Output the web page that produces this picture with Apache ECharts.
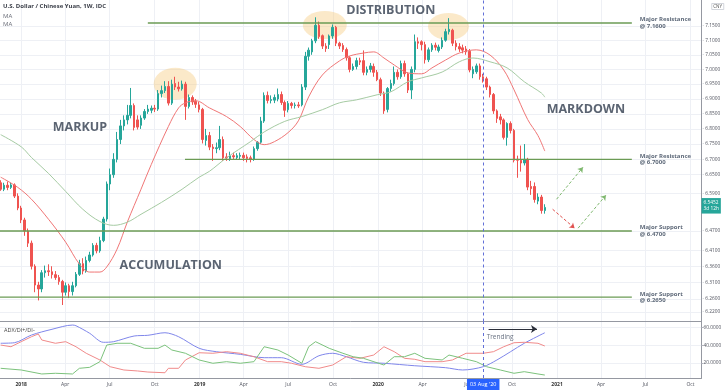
<!DOCTYPE html>
<html><head><meta charset="utf-8">
<script src="https://cdn.jsdelivr.net/npm/echarts@6/dist/echarts.min.js"></script>
<style>html,body{margin:0;padding:0;background:#fff}#c{width:728px;height:391px}</style>
</head><body><div id="c"></div>
<script>
// ---------- DATA ----------
const weekStart = -6; // first candle: 6 weeks before 2018-01-01 (weekly, Monday)
const open = [
6.624,6.603,6.616,6.609,6.617,6.581,6.543,6.505,6.470,6.432,
6.360,6.302,6.290,6.340,6.346,6.343,6.334,6.325,6.313,6.280,
6.300,6.282,6.300,6.335,6.368,6.345,6.378,6.395,6.425,6.408,
6.440,6.508,6.620,6.650,6.700,6.765,6.810,6.830,6.845,6.878,
6.830,6.812,6.836,6.858,6.862,6.869,6.866,6.918,6.928,6.942,
6.886,6.952,6.940,6.934,6.950,6.875,6.905,6.892,6.880,6.865,
6.762,6.778,6.740,6.735,6.738,6.765,6.708,6.702,6.712,6.706,
6.710,6.713,6.708,6.705,6.700,6.735,6.756,6.826,6.912,6.895,
6.896,6.900,6.915,6.888,6.864,6.885,6.878,6.880,6.880,6.940,
7.045,7.060,7.098,7.152,7.116,7.080,7.085,7.115,7.145,7.090,
7.082,7.068,7.040,7.000,7.010,7.030,7.030,6.990,7.000,7.010,
6.990,6.965,6.920,6.865,6.935,6.952,6.990,6.975,7.020,6.985,
6.930,7.000,7.095,7.095,7.085,7.033,7.067,7.083,7.065,7.077,
7.100,7.130,7.135,7.090,7.078,7.074,7.070,7.062,6.985,6.992,
7.012,6.975,6.968,6.940,6.915,6.860,6.840,6.830,6.772,6.818,
6.795,6.700,6.697,6.688,6.700,6.612,6.612,6.565,6.578,6.535];
const close = [
6.603,6.616,6.609,6.617,6.581,6.543,6.505,6.470,6.432,6.360,
6.302,6.290,6.340,6.346,6.343,6.334,6.325,6.313,6.280,6.300,
6.282,6.300,6.335,6.368,6.345,6.378,6.395,6.425,6.408,6.440,
6.508,6.620,6.650,6.700,6.765,6.810,6.830,6.845,6.878,6.805,
6.806,6.836,6.858,6.866,6.869,6.866,6.918,6.928,6.942,6.886,
6.950,6.940,6.934,6.950,6.875,6.905,6.890,6.882,6.865,6.765,
6.778,6.740,6.735,6.738,6.765,6.705,6.705,6.712,6.708,6.712,
6.713,6.705,6.703,6.700,6.735,6.756,6.826,6.912,6.895,6.898,
6.905,6.915,6.888,6.862,6.885,6.878,6.880,6.877,6.940,7.045,
7.066,7.098,7.152,7.113,7.080,7.072,7.115,7.145,7.090,7.080,
7.068,7.040,7.000,7.010,7.030,7.025,6.990,7.000,7.012,6.990,
6.965,6.920,6.860,6.935,6.952,6.990,6.975,7.020,6.985,6.930,
7.000,7.095,7.090,7.085,7.033,7.067,7.083,7.076,7.077,7.100,
7.130,7.138,7.090,7.078,7.070,7.066,7.060,6.998,7.000,7.012,
6.975,6.968,6.940,6.915,6.860,6.835,6.830,6.772,6.818,6.795,
6.697,6.697,6.688,6.700,6.610,6.605,6.570,6.578,6.535,6.545];
const low = [
6.598,6.597,6.600,6.604,6.575,6.536,6.495,6.455,6.420,6.350,
6.280,6.255,6.280,6.325,6.330,6.322,6.318,6.303,6.241,6.270,
6.262,6.270,6.295,6.330,6.335,6.340,6.372,6.390,6.400,6.402,
6.435,6.500,6.600,6.640,6.690,6.750,6.795,6.815,6.835,6.795,
6.798,6.800,6.830,6.850,6.852,6.856,6.860,6.905,6.920,6.878,
6.880,6.930,6.925,6.928,6.830,6.868,6.880,6.870,6.855,6.752,
6.745,6.730,6.695,6.720,6.730,6.695,6.695,6.695,6.700,6.698,
6.700,6.695,6.690,6.690,6.695,6.728,6.750,6.820,6.885,6.885,
6.886,6.892,6.880,6.840,6.855,6.868,6.868,6.870,6.875,6.930,
7.030,7.050,7.090,7.105,7.070,7.060,7.070,7.105,7.080,7.070,
7.060,7.030,6.990,6.995,7.000,7.015,6.980,6.980,6.990,6.975,
6.960,6.910,6.850,6.855,6.925,6.945,6.965,6.968,6.975,6.920,
6.900,6.990,7.070,7.065,7.020,7.025,7.060,7.065,7.058,7.070,
7.095,7.120,7.080,7.065,7.060,7.055,7.050,6.990,6.970,6.985,
6.965,6.955,6.930,6.905,6.850,6.820,6.815,6.765,6.745,6.785,
6.690,6.640,6.660,6.680,6.600,6.585,6.560,6.555,6.525,6.525];
const high = [
6.632,6.624,6.628,6.624,6.622,6.590,6.550,6.512,6.478,6.440,
6.366,6.312,6.348,6.362,6.366,6.360,6.345,6.333,6.318,6.310,
6.306,6.312,6.342,6.380,6.385,6.390,6.405,6.432,6.433,6.452,
6.515,6.628,6.670,6.720,6.790,6.830,6.845,6.880,6.937,6.885,
6.845,6.845,6.866,6.880,6.878,6.880,6.930,6.945,6.960,6.960,
6.965,6.975,6.958,6.962,6.958,6.915,6.912,6.900,6.890,6.870,
6.800,6.790,6.750,6.755,6.810,6.775,6.720,6.725,6.722,6.720,
6.722,6.722,6.716,6.712,6.742,6.760,6.840,6.922,6.925,6.912,
6.915,6.935,6.925,6.895,6.893,6.890,6.888,6.890,6.950,7.060,
7.075,7.105,7.180,7.165,7.120,7.090,7.120,7.155,7.150,7.095,
7.090,7.075,7.045,7.020,7.040,7.040,7.065,7.010,7.022,7.020,
6.998,6.972,6.925,6.940,6.965,7.010,7.000,7.030,7.030,6.990,
7.010,7.120,7.110,7.100,7.095,7.075,7.090,7.092,7.085,7.110,
7.140,7.177,7.140,7.100,7.090,7.085,7.080,7.070,7.010,7.020,
7.020,6.985,6.975,6.945,6.920,6.865,6.850,6.835,6.822,6.825,
6.800,6.712,6.745,6.750,6.705,6.630,6.625,6.590,6.585,6.555];

const maRedWeek = [-6,-1,3,8,13,17,20,23,25,28,31,35,38,43,46,48,51,55,60,64,68,71,74,78,81,84,88,93,96,100,103,106,109,113,117,120,124,128,133,137,141,144,148,151,153];
const maRedVal  = [6.642,6.609,6.571,6.507,6.435,6.367,6.342,6.342,6.358,6.413,6.498,6.603,6.683,6.808,6.870,6.887,6.894,6.870,6.841,6.808,6.765,6.748,6.758,6.788,6.827,6.907,6.981,7.029,7.046,7.056,7.060,7.039,7.015,6.988,6.985,7.005,7.032,7.056,7.067,7.049,6.998,6.931,6.831,6.778,6.727];
const maGreenWeek = [-6,0,3,8,13,18,23,27,31,35,41,47,52,55,60,67,71,77,82,88,93,98,104,108,113,117,123,128,132,137,142,147,152,153];
const maGreenVal  = [6.781,6.741,6.706,6.654,6.596,6.539,6.500,6.488,6.498,6.523,6.561,6.603,6.642,6.661,6.705,6.758,6.790,6.825,6.841,6.864,6.887,6.897,6.914,6.924,6.958,6.971,6.991,7.026,7.039,7.026,7.005,6.958,6.920,6.906];

const adxWeek = [-6,-2,3,9,15,16,20,24,27,33,37,42,46,52,57,64,71,76,82,87,91,95,100,106,115,124,129,135,139,143,147,153];
const adxVal  = [42.3,42.9,51.6,58.1,62.9,62.1,53.6,43.4,44.1,50.5,51.3,54.2,49.7,36.6,32.8,29.8,26.0,26.0,18.5,28.2,31.0,27.1,20.8,19.7,16.9,14.7,12.1,15.8,23.4,32.8,42.3,54.2];
const diMinusWeek = [-6,-3,0,3,5,6,10,13,16,19,23,26,30,34,37,42,43,46,48,52,56,60,64,68,72,76,79,83,87,91,95,99,103,106,109,112,115,118,123,126,130,135,138,141,144,147,151,153];
const diMinusVal  = [40.3,38.4,44.1,49.7,52.8,46.0,42.3,44.1,38.4,31.0,23.4,15.8,12.1,11.0,9.8,9.0,14.0,14.0,23.4,31.6,31.0,32.8,31.0,27.1,21.5,21.5,19.7,15.8,14.0,17.7,27.1,25.3,29.0,38.4,32.8,25.3,24.2,21.5,21.5,23.4,31.0,31.0,32.8,38.4,42.9,43.4,42.3,39.2];
const diPlusWeek = [-6,0,6,10,15,17,20,23,25,28,32,36,40,42,44,48,52,56,60,64,68,71,75,78,82,84,86,90,94,97,100,106,109,112,115,118,123,125,129,133,136,140,144,147,151,153];
const diPlusVal  = [14.0,12.1,7.6,8.4,7.6,14.0,15.1,21.5,40.3,42.3,42.3,36.6,36.6,40.3,34.7,31.0,23.4,19.7,21.5,19.7,21.5,38.4,34.7,29.0,19.7,38.4,44.1,36.6,31.0,27.1,25.3,17.7,27.1,27.1,31.0,25.3,23.4,29.0,25.3,21.5,15.8,12.1,8.4,10.2,7.6,6.4];

const priceTicks = [7.15,7.10,7.05,7.00,6.95,6.90,6.85,6.80,6.75,6.70,6.65,6.59,6.47,6.41,6.36,6.31,6.265,6.22];
const adxTicks = [20,40,60];
const quarterTicks = ['2018-01-01','2018-04-01','2018-07-01','2018-10-01','2019-01-01','2019-04-01','2019-07-01','2019-10-01','2020-01-01','2020-04-01','2020-07-01','2020-10-01','2021-01-01','2021-04-01','2021-07-01','2021-10-01'];
const monthNames = ['Jan','Feb','Mar','Apr','May','Jun','Jul','Aug','Sep','Oct','Nov','Dec'];

const levelPrice = [7.16,6.70,6.47,6.265];
const levelText  = ['Major Resistance','Major Resistance','Major Support','Major Support'];
const levelStart = ['2018-09-17','2018-12-02','2017-11-18','2017-11-18'];
const levelEnd   = '2021-06-03';

const phaseText  = ['MARKUP','ACCUMULATION','DISTRIBUTION','MARKDOWN'];
const phaseDate  = ['2018-05-01','2018-11-03','2020-01-27','2021-03-01'];
const phasePrice = [6.804,6.364,7.2055,6.864];

const topDate  = ['2018-11-12','2019-09-14','2020-05-24'];
const topPrice = [6.951,7.153,7.148];

const projFromDate = ['2020-12-23','2020-12-31','2021-02-13'];
const projFromVal  = [6.539,6.571,6.479];
const projToDate   = ['2021-02-06','2021-02-23','2021-04-11'];
const projToVal    = [6.479,6.674,6.584];

const lastPrice = 6.5452;
const countdown = '3d 12h';
const markerDate = '2020-08-03';
const markerText = "03 Aug '20";
const trendFrom = ['2020-08-14',58.4];
const trendTo   = ['2020-11-21',58.4];
const trendText = ['2020-08-10',49.4,'Trending'];

const xMin = '2017-11-18T15:00:00Z';
const xMax = '2021-10-23T12:00:00Z';

// ---------- BUILD ----------
const DAY = 86400000;
const T0 = Date.UTC(2018,0,1);
const wk = n => T0 + n*7*DAY;
const d = s => Date.parse(s);
const candles = open.map((o,i)=>[wk(weekStart+i), o, close[i], low[i], high[i]]);
const pairs = (ws, vs) => ws.map((n,i)=>[wk(n), vs[i]]);
const qt = quarterTicks.map(d);
const fmtTime = v => { const t=new Date(v); const m=t.getUTCMonth(); return m===0 ? '{y|'+t.getUTCFullYear()+'}' : monthNames[m]; };

const GRID = '#eef0f5', AXIS = '#9598a1', TXT = '#50535e', ANN = '#5b6472';
const FONT = 'Open Sans';
const ellipseSize = [[43,32],[44,28],[41,27]];

const levelSeries = levelPrice.map((p,i)=>({
  type:'line', xAxisIndex:0, yAxisIndex:0, z:5, symbol:'none', silent:true,
  data:[[d(levelStart[i]),p],[d(levelEnd),p]],
  lineStyle:{color:'#6b9b55', width:1.4},
  endLabel:{show:true, distance:8, formatter: levelText[i]+'\n@ '+p.toFixed(4),
    color:'#5f6a7a', fontSize:6, fontWeight:'bold', lineHeight:6.5, fontFamily:FONT},
  markLine: i===0 ? {
    silent:true, z:5, symbolSize:5, label:{show:false},
    data: projFromDate.map((f,k)=>[
      {coord:[d(f), projFromVal[k]], symbol:'none',
       lineStyle:{color: k===0 ? '#e0524f' : '#7fb86f', type:[3,2], width:1}},
      {coord:[d(projToDate[k]), projToVal[k]], symbol:'arrow'}])
  } : undefined
}));

const xCommon = {type:'value', min:d(xMin), max:d(xMax), scale:true,
  axisLine:{show:true, lineStyle:{color:AXIS, width:1}},
  axisTick:{show:false, customValues:qt},
  splitLine:{show:true, lineStyle:{color:GRID, width:1}}};

const option = {
  animation:false,
  backgroundColor:'#ffffff',
  textStyle:{fontFamily:FONT},
  title:[
    {left:3, top:3, padding:0, text:'U.S. Dollar / Chinese Yuan, 1W, IDC',
     textStyle:{fontSize:6, fontWeight:'bold', color:'#3a3e48', fontFamily:FONT}},
    {left:3, top:12, padding:0, text:'MA\nMA',
     textStyle:{fontSize:6, lineHeight:8.5, fontWeight:'normal', color:'#6a6d78', fontFamily:FONT}},
    {right:4, top:3, padding:[1,2], text:'CNY', borderColor:'#c8cbd3', borderWidth:0.8,
     textStyle:{fontSize:4.5, fontWeight:'normal', color:'#555', fontFamily:FONT}},
    {left:4, top:327, padding:0, text:'ADX/DI+/DI-',
     textStyle:{fontSize:5.5, fontWeight:'normal', color:'#444', fontFamily:FONT}}
  ],
  grid:[
    {left:0, right:26.5, top:0, height:321.5, outerBoundsMode:'none', containLabel:false},
    {left:0, right:26.5, top:321.5, height:56.5, outerBoundsMode:'none', containLabel:false}
  ],
  xAxis:[
    Object.assign({}, xCommon, {gridIndex:0, axisLabel:{show:false}}),
    Object.assign({}, xCommon, {gridIndex:1,
     axisLabel:{customValues:qt, formatter:fmtTime, fontSize:5, color:TXT, margin:4, fontFamily:FONT,
       rich:{y:{fontSize:5, fontWeight:'bold', color:'#333', fontFamily:FONT}}}})
  ],
  yAxis:[
    {type:'log', gridIndex:0, position:'right', min:6.1911, max:7.2407,
     axisLine:{show:true, lineStyle:{color:AXIS, width:1}},
     axisTick:{show:false}, axisLabel:{show:false}, splitLine:{show:false}},
    {type:'value', gridIndex:1, position:'right', min:3.05, max:66.9,
     axisLine:{show:true, lineStyle:{color:AXIS, width:1}},
     axisTick:{show:true, length:2, customValues:adxTicks, lineStyle:{color:'#b2b5be'}},
     axisLabel:{customValues:adxTicks, formatter:v=>v.toFixed(4), fontSize:4.8, color:TXT, margin:2, fontFamily:FONT},
     splitLine:{show:true, lineStyle:{color:GRID, width:1}}}
  ],
  series:[
    {
      type:'scatter', xAxisIndex:0, yAxisIndex:0, z:1, silent:true,
      data: topDate.map((t,i)=>({value:[d(t), topPrice[i]], symbolSize:ellipseSize[i]})),
      itemStyle:{color:'rgba(244,200,120,0.5)'},
      markLine:{silent:true, z:0, symbol:'none',
        lineStyle:{color:GRID, width:1, type:'solid'},
        label:{show:true, position:'end', distance:1, color:TXT, fontSize:4.8, fontFamily:FONT,
          formatter:p=>'{k|-} '+Number(p.value).toFixed(4), rich:{k:{color:'#b2b5be', fontSize:4.8}}},
        data: priceTicks.map(v=>({yAxis:v}))}
    },
    {
      type:'candlestick', xAxisIndex:0, yAxisIndex:0, z:3, barWidth:2,
      encode:{x:0, y:[1,2,3,4]},
      data:candles,
      itemStyle:{color:'#26a69a', color0:'#ef5350', borderColor:'#26a69a', borderColor0:'#ef5350', borderWidth:1},
      markLine:{silent:true, symbol:'none', z:6,
        data:[
          {xAxis:d(markerDate), lineStyle:{color:'#6270d8', type:[3,3], width:1}, label:{show:false}},
          {yAxis:lastPrice, lineStyle:{color:'rgba(0,0,0,0)', width:0.1},
           label:{show:true, position:'end', distance:0, formatter:lastPrice.toFixed(4)+'\n'+countdown,
             backgroundColor:'#26a69a', color:'#ffffff', fontSize:4.8, lineHeight:6.5, padding:[1.5,2,1,2], fontFamily:FONT}}
        ]},
      markPoint:{silent:true, symbol:'circle', symbolSize:0,
        label:{show:true, position:'inside', color:ANN, fontSize:12.5, fontWeight:'bold', fontFamily:FONT},
        data: phaseText.map((t,i)=>({coord:[d(phaseDate[i]), phasePrice[i]], label:{formatter:t}}))}
    },
    {type:'line', xAxisIndex:0, yAxisIndex:0, z:4, symbol:'none', smooth:0.35, silent:true,
     data:pairs(maRedWeek, maRedVal), lineStyle:{color:'#f07676', width:1}},
    {type:'line', xAxisIndex:0, yAxisIndex:0, z:4, symbol:'none', smooth:0.35, silent:true,
     data:pairs(maGreenWeek, maGreenVal), lineStyle:{color:'#a6cba3', width:1}},
    ...levelSeries,
    {type:'line', xAxisIndex:1, yAxisIndex:1, z:3, symbol:'none', smooth:0.3, silent:true,
     data:pairs(adxWeek, adxVal), lineStyle:{color:'#7f86ea', width:1},
     markLine:{silent:true, symbol:'none', symbolSize:6,
       data:[
         {xAxis:d(markerDate), lineStyle:{color:'#6270d8', type:[3,3], width:1},
          label:{show:true, position:'start', distance:1, formatter:markerText, backgroundColor:'#2962ff',
            color:'#fff', fontSize:5.5, padding:[2.5,3], fontFamily:FONT}},
         [{coord:[d(trendFrom[0]), trendFrom[1]], symbol:'none', lineStyle:{color:'#2a2e39', width:1, type:'solid'}, label:{show:false}},
          {coord:[d(trendTo[0]), trendTo[1]], symbol:'arrow'}]
       ]},
     markPoint:{silent:true, symbol:'circle', symbolSize:0,
       data:[{coord:[d(trendText[0]), trendText[1]],
         label:{show:true, position:'right', distance:0, formatter:trendText[2], color:'#6a7383', fontSize:6.5, fontFamily:FONT}}]}
    },
    {type:'line', xAxisIndex:1, yAxisIndex:1, z:3, symbol:'none', silent:true,
     data:pairs(diMinusWeek, diMinusVal), lineStyle:{color:'#f08a8a', width:1}},
    {type:'line', xAxisIndex:1, yAxisIndex:1, z:3, symbol:'none', silent:true,
     data:pairs(diPlusWeek, diPlusVal), lineStyle:{color:'#7cc27c', width:1}}
  ]
};
const chart = echarts.init(document.getElementById('c'), null, {renderer:'canvas'});
chart.setOption(option);
</script>
</body></html>
